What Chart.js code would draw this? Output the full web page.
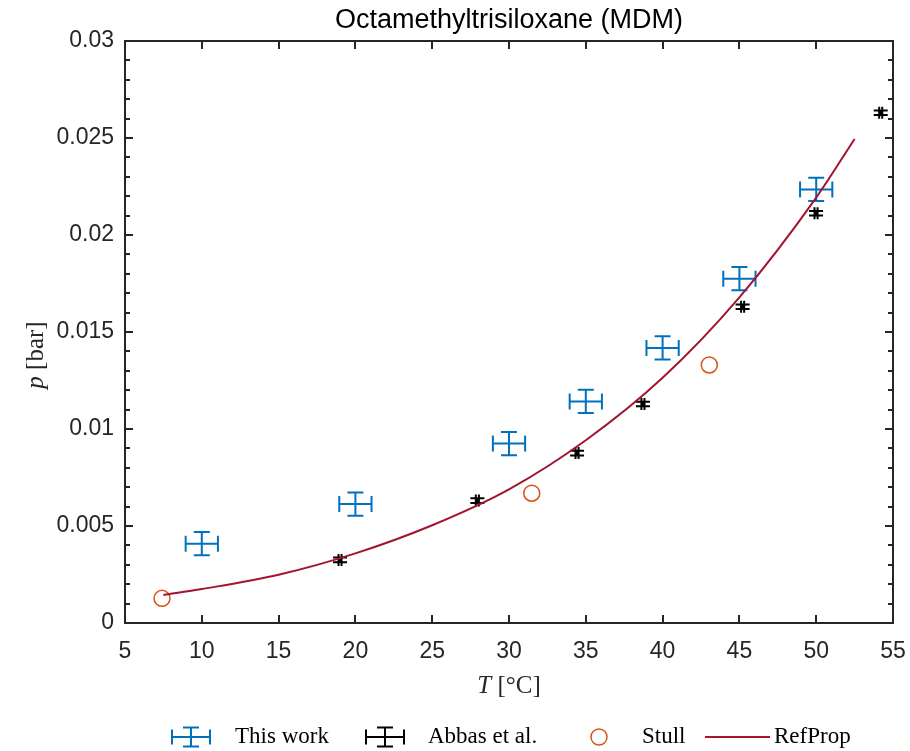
<!DOCTYPE html>
<html>
<head>
<meta charset="utf-8">
<title>Octamethyltrisiloxane (MDM)</title>
<script src="https://cdn.jsdelivr.net/npm/chart.js@4.4.1/dist/chart.umd.min.js"></script>
<style>
  html, body { margin: 0; padding: 0; background: #fff; overflow: hidden; }
  #wrap { width: 910px; height: 751px; position: relative; }
</style>
</head>
<body>
<div id="wrap"><canvas id="chart"></canvas></div>
<script>
// This work (T [°C], p [bar], errors)
const thisWorkT = [10, 20, 30, 35, 40, 45, 50];
const thisWorkP = [0.00409, 0.00613, 0.00925, 0.01142, 0.01418, 0.01775, 0.02235];
const thisWorkTErr = [1.05, 1.05, 1.05, 1.05, 1.05, 1.05, 1.05];
const thisWorkPErr = [0.0006, 0.0006, 0.0006, 0.0006, 0.0006, 0.0006, 0.0006];

// Abbas et al.
const abbasT = [19.0, 27.94, 34.43, 38.72, 45.21, 49.99, 54.2];
const abbasP = [0.00325, 0.00631, 0.00876, 0.01129, 0.0163, 0.02112, 0.0263];
const abbasTErr = [0.1, 0.1, 0.1, 0.1, 0.1, 0.1, 0.1];
const abbasPErr = [0.00012, 0.00012, 0.00012, 0.00012, 0.00012, 0.00012, 0.00012];

// Stull
const stullT = [7.41, 31.48, 43.04];
const stullP = [0.00127, 0.00669, 0.0133];

// RefProp curve
const refPropT = [7.5, 10, 15, 20, 25, 30, 35, 40, 45, 50, 52.5];
const refPropP = [0.00144, 0.00175, 0.00249, 0.00359, 0.00504, 0.00689, 0.00942, 0.01264, 0.01679, 0.02193, 0.02495];

// axes
const xMin = 5, xMax = 55, xStep = 5;
const yMin = 0, yMax = 0.03, yStep = 0.005, yMinorStep = 0.001;

const BLUE = '#0072BD';
const BLACK = '#000000';
const ORANGE = '#D95319';
const RED = '#A2142F';
const AXIS = '#262626';

function toPoints(xs, ys) {
  return xs.map((x, i) => ({ x: x, y: ys[i] }));
}

// draws a MATLAB style errorbar cross
function drawCross(ctx, cx, cy, x0, x1, y0, y1, capX, capY) {
  ctx.beginPath();
  ctx.moveTo(x0, cy); ctx.lineTo(x1, cy);
  ctx.moveTo(x0, cy - capX); ctx.lineTo(x0, cy + capX);
  ctx.moveTo(x1, cy - capX); ctx.lineTo(x1, cy + capX);
  ctx.moveTo(cx, y0); ctx.lineTo(cx, y1);
  ctx.moveTo(cx - capY, y0); ctx.lineTo(cx + capY, y0);
  ctx.moveTo(cx - capY, y1); ctx.lineTo(cx + capY, y1);
  ctx.stroke();
}

// box + inward ticks on all four sides
const axesBox = {
  id: 'axesBox',
  beforeDatasetsDraw(chart) {
    const { ctx, chartArea: a, scales: { x, y } } = chart;
    ctx.save();
    ctx.strokeStyle = AXIS;
    ctx.lineWidth = 2;
    ctx.beginPath();
    x.ticks.forEach((t) => {
      const px = Math.round(x.getPixelForValue(t.value));
      ctx.moveTo(px, a.bottom); ctx.lineTo(px, a.bottom - 8);
      ctx.moveTo(px, a.top); ctx.lineTo(px, a.top + 8);
    });
    const n = Math.round((yMax - yMin) / yMinorStep);
    for (let i = 0; i <= n; i++) {
      const py = Math.round(y.getPixelForValue(yMin + i * yMinorStep));
      const len = i % Math.round(yStep / yMinorStep) === 0 ? 8 : 5;
      ctx.moveTo(a.left, py); ctx.lineTo(a.left + len, py);
      ctx.moveTo(a.right, py); ctx.lineTo(a.right - len, py);
    }
    ctx.stroke();
    ctx.strokeRect(a.left, a.top, a.right - a.left, a.bottom - a.top);
    ctx.restore();
  }
};

// errorbars for datasets with xErr / yErr
const errorBars = {
  id: 'errorBars',
  beforeDatasetsDraw(chart) {
    const { ctx, scales: { x, y } } = chart;
    chart.data.datasets.forEach((ds) => {
      if (!ds.xErr) return;
      ctx.save();
      ctx.strokeStyle = ds.borderColor;
      ctx.lineWidth = 2;
      ds.data.forEach((pt, i) => {
        drawCross(ctx,
          x.getPixelForValue(pt.x), y.getPixelForValue(pt.y),
          x.getPixelForValue(pt.x - ds.xErr[i]), x.getPixelForValue(pt.x + ds.xErr[i]),
          y.getPixelForValue(pt.y + ds.yErr[i]), y.getPixelForValue(pt.y - ds.yErr[i]),
          ds.capX, ds.capY);
      });
      ctx.restore();
    });
  }
};

// axis titles (italic symbol) and legend below
const labelsAndLegend = {
  id: 'labelsAndLegend',
  afterDraw(chart) {
    const { ctx, chartArea: a } = chart;
    const serif = '"Liberation Serif", "DejaVu Serif", serif';
    ctx.save();
    ctx.fillStyle = AXIS;
    ctx.textBaseline = 'middle';

    // x title
    const cx = (a.left + a.right) / 2;
    ctx.font = 'italic 25px ' + serif;
    const wT = ctx.measureText('T').width;
    ctx.font = '25px ' + serif;
    const wRest = ctx.measureText(' [°C]').width;
    let sx = cx - (wT + wRest) / 2;
    ctx.font = 'italic 25px ' + serif;
    ctx.fillText('T', sx, 686);
    ctx.font = '25px ' + serif;
    ctx.fillText(' [°C]', sx + wT, 686);

    // y title
    ctx.save();
    ctx.translate(36, (a.top + a.bottom) / 2 + 23);
    ctx.rotate(-Math.PI / 2);
    ctx.font = 'italic 25px ' + serif;
    const wp = ctx.measureText('p').width;
    ctx.font = '25px ' + serif;
    const wb = ctx.measureText(' [bar]').width;
    sx = -(wp + wb) / 2;
    ctx.font = 'italic 25px ' + serif;
    ctx.fillText('p', sx, 0);
    ctx.font = '25px ' + serif;
    ctx.fillText(' [bar]', sx + wp, 0);
    ctx.restore();

    // legend
    const ly = 737;
    ctx.lineWidth = 2;
    ctx.strokeStyle = BLUE;
    drawCross(ctx, 191, ly, 172, 210, ly - 9.5, ly + 9.5, 7.5, 8);
    ctx.strokeStyle = BLACK;
    drawCross(ctx, 385, ly, 366, 404, ly - 9.5, ly + 9.5, 7.5, 8);
    ctx.lineWidth = 1.5;
    ctx.strokeStyle = ORANGE;
    ctx.beginPath();
    ctx.arc(599, ly, 8, 0, Math.PI * 2);
    ctx.stroke();
    ctx.lineWidth = 2;
    ctx.strokeStyle = RED;
    ctx.beginPath();
    ctx.moveTo(705, ly); ctx.lineTo(770, ly);
    ctx.stroke();

    ctx.fillStyle = '#000';
    ctx.font = '23px ' + serif;
    ctx.fillText('This work', 235, ly);
    ctx.fillText('Abbas et al.', 428, ly);
    ctx.fillText('Stull', 642, ly);
    ctx.fillText('RefProp', 774, ly);
    ctx.restore();
  }
};

const tickFont = { family: '"Liberation Sans", Arial, sans-serif', size: 23 };

new Chart(document.getElementById('chart'), {
  type: 'scatter',
  data: {
    datasets: [
      {
        label: 'RefProp',
        type: 'line',
        data: toPoints(refPropT, refPropP),
        borderColor: RED,
        borderWidth: 2,
        pointRadius: 0,
        fill: false,
        cubicInterpolationMode: 'monotone'
      },
      {
        label: 'Stull',
        data: toPoints(stullT, stullP),
        borderColor: ORANGE,
        backgroundColor: 'rgba(0,0,0,0)',
        borderWidth: 1.5,
        pointRadius: 8,
        pointStyle: 'circle'
      },
      {
        label: 'Abbas et al.',
        data: toPoints(abbasT, abbasP),
        borderColor: BLACK,
        pointRadius: 0,
        xErr: abbasTErr,
        yErr: abbasPErr,
        capX: 6,
        capY: 7
      },
      {
        label: 'This work',
        data: toPoints(thisWorkT, thisWorkP),
        borderColor: BLUE,
        pointRadius: 0,
        xErr: thisWorkTErr,
        yErr: thisWorkPErr,
        capX: 8,
        capY: 8
      }
    ]
  },
  options: {
    responsive: true,
    maintainAspectRatio: false,
    animation: false,
    layout: { padding: { left: 55, right: 17, top: 0, bottom: 88 } },
    plugins: {
      legend: { display: false },
      tooltip: { enabled: false },
      title: {
        display: true,
        fullSize: false,
        text: 'Octamethyltrisiloxane (MDM)',
        color: '#000',
        font: { family: '"Liberation Sans", Arial, sans-serif', size: 27, weight: 'normal', lineHeight: 1.2 },
        padding: { top: 4, bottom: 4.6 }
      }
    },
    scales: {
      x: {
        type: 'linear',
        min: xMin,
        max: xMax,
        grid: { display: false, drawTicks: false },
        border: { display: false },
        ticks: { stepSize: xStep, color: AXIS, font: tickFont, padding: 15, maxRotation: 0 },
        afterFit: (s) => { s.height = 40; s.paddingLeft = 0; s.paddingRight = 0; }
      },
      y: {
        type: 'linear',
        min: yMin,
        max: yMax,
        grid: { display: false, drawTicks: false },
        border: { display: false },
        ticks: {
          stepSize: yStep,
          color: AXIS,
          font: tickFont,
          padding: 11,
          callback: (v) => String(+v.toFixed(3))
        },
        afterFit: (s) => { s.width = 70; s.paddingTop = 0; s.paddingBottom = 0; }
      }
    }
  },
  plugins: [axesBox, errorBars, labelsAndLegend]
});
</script>
</body>
</html>
